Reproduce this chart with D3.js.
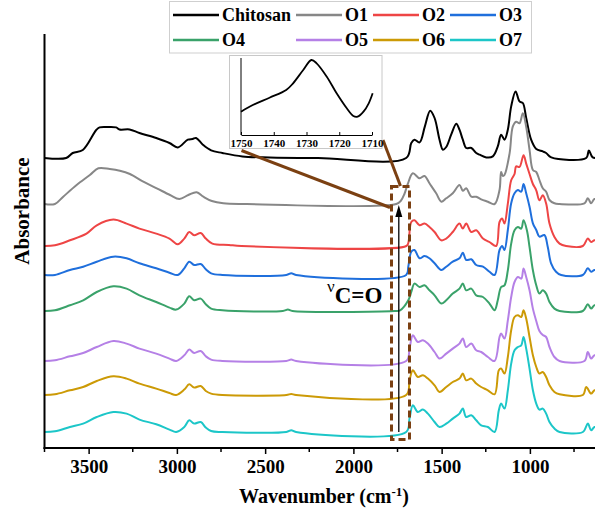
<!DOCTYPE html>
<html>
<head>
<meta charset="utf-8">
<script src="https://cdn.jsdelivr.net/npm/d3@7"></script>
<style>
  body { margin: 0; background: #fff; }
  text { font-family: "Liberation Serif", "Times New Roman", serif; }
</style>
</head>
<body>
<div id="chart"></div>
<script>
// spectra: [wavenumber, absorbance above own baseline]
var names = ["Chitosan", "O1", "O2", "O3", "O4", "O5", "O6", "O7"];
var offsets = [2.90, 2.44, 2.02, 1.73, 1.37, 0.87, 0.53, 0.16];

var chitosan = [[3750,0],[3627,0],[3590,.05],[3533,.08],[3457,.28],[3438,.306],[3393,.31],[3344,.306],[3325,.285],[3268,.285],[3212,.25],[3117,.20],[3042,.15],[2995,.106],[2938,.183],[2911,.19],[2891,.20],[2853,.133],[2806,.076],[2742,.05],[2629,.016],[2475,.005],[2200,0],[1701,0],[1672,.15],[1654,.183],[1625,.156],[1595,.316],[1565,.473],[1540,.40],[1512,.183],[1493,.083],[1474,.11],[1446,.233],[1417,.343],[1399,.283],[1380,.183],[1361,.10],[1332,.10],[1304,.05],[1285,.033],[1247,.006],[1210,.016],[1182,.116],[1163,.233],[1144,.183],[1125,.283],[1106,.516],[1081,.666],[1059,.566],[1040,.55],[1021,.40],[993,.183],[964,.09],[927,.066],[908,.05],[879,.006],[681,0],[666,.076],[644,.006],[600,0]];
var o1 = [[3750,0],[3691,0],[3644,.073],[3568,.19],[3493,.29],[3445,.357],[3380,.35],[3323,.333],[3266,.30],[3190,.223],[3114,.157],[3039,.09],[2986,.05],[2935,.09],[2888,.117],[2850,.073],[2802,.03],[2737,.007],[2605,0],[1757,0],[1730,.035],[1711,.10],[1692,.20],[1663,.307],[1625,.257],[1597,.28],[1569,.207],[1531,.107],[1502,.023],[1474,.057],[1437,.107],[1399,.19],[1380,.133],[1361,.157],[1332,.073],[1304,.073],[1276,.047],[1238,.023],[1200,0],[1172,.14],[1163,.32],[1153,.28],[1144,.29],[1115,.507],[1097,.773],[1078,.823],[1059,.807],[1040,.907],[1021,.773],[1002,.54],[983,.34],[964,.32],[946,.24],[927,.157],[908,.123],[889,.04],[861,.007],[832,0],[691,.007],[672,.057],[653,.007],[634,.05],[600,.02]];
var o2 = [[3750,0],[3691,.007],[3606,.057],[3512,.124],[3454,.207],[3360,.264],[3285,.224],[3212,.174],[3117,.124],[3042,.074],[2995,.017],[2958,.074],[2930,.14],[2902,.107],[2865,.13],[2836,.074],[2799,.024],[2705,.01],[2634,0],[1700,0],[1689,.03],[1672,.24],[1654,.257],[1625,.207],[1597,.224],[1569,.19],[1540,.14],[1502,.057],[1474,.074],[1437,.14],[1399,.224],[1380,.174],[1361,.224],[1332,.14],[1304,.157],[1266,.074],[1229,.04],[1191,0],[1172,.24],[1157,.274],[1144,.224],[1125,.424],[1106,.657],[1087,.72],[1078,.797],[1059,.79],[1036,.907],[1021,.824],[1002,.72],[983,.62],[964,.557],[946,.457],[927,.507],[908,.424],[889,.224],[861,.09],[832,.024],[795,0],[700,0],[672,.074],[653,.04],[634,.057],[600,.03]];
var o3 = [[3750,0],[3691,0],[3606,.05],[3531,.083],[3454,.133],[3360,.183],[3285,.167],[3212,.117],[3117,.067],[3042,.023],[2995,0],[2958,.067],[2930,.133],[2902,.10],[2865,.11],[2836,.057],[2806,.017],[2742,0],[2380,0],[2352,.017],[2325,0],[1701,0],[1689,.083],[1672,.233],[1654,.25],[1625,.167],[1597,.19],[1569,.167],[1540,.117],[1502,.05],[1474,.083],[1437,.133],[1399,.167],[1380,.223],[1361,.15],[1332,.157],[1304,.10],[1266,.083],[1229,.033],[1200,0],[1172,.25],[1157,.29],[1144,.25],[1125,.45],[1106,.717],[1087,.817],[1068,.85],[1049,.833],[1036,.91],[1021,.817],[1002,.683],[983,.517],[964,.45],[946,.383],[918,.40],[899,.283],[880,.117],[852,.033],[823,0],[700,0],[672,.067],[653,.033],[634,.05],[600,.03]];
var o4 = [[3750,0],[3691,.007],[3606,.057],[3531,.107],[3454,.19],[3360,.247],[3285,.224],[3212,.157],[3117,.09],[3042,.034],[3004,.014],[2958,.074],[2930,.147],[2902,.107],[2865,.124],[2836,.067],[2806,.024],[2742,.007],[2400,0],[2371,.014],[2345,0],[1768,0],[1735,.007],[1689,.107],[1672,.19],[1654,.274],[1625,.24],[1597,.257],[1569,.207],[1540,.157],[1502,.074],[1474,.107],[1437,.174],[1399,.224],[1380,.274],[1361,.207],[1332,.224],[1304,.157],[1266,.14],[1229,.074],[1200,.007],[1182,.107],[1163,.24],[1144,.257],[1125,.407],[1106,.674],[1087,.807],[1068,.84],[1049,.824],[1036,.907],[1017,.807],[1002,.64],[983,.407],[964,.257],[946,.174],[927,.207],[908,.174],[889,.09],[861,.024],[832,0],[700,0],[672,.067],[653,.024],[634,.057],[600,.03]];
var o5 = [[3750,0],[3691,.007],[3606,.047],[3531,.08],[3454,.14],[3360,.20],[3285,.174],[3212,.124],[3117,.074],[3042,.024],[3004,0],[2958,.057],[2930,.114],[2902,.08],[2865,.10],[2836,.047],[2806,.014],[2742,0],[2380,0],[2352,.014],[2325,0],[1701,0],[1682,.124],[1663,.257],[1635,.19],[1606,.207],[1578,.174],[1540,.09],[1512,.024],[1474,.074],[1437,.124],[1399,.174],[1380,.224],[1361,.14],[1332,.174],[1304,.107],[1276,.09],[1238,.04],[1200,0],[1172,.24],[1163,.274],[1144,.224],[1125,.407],[1106,.64],[1087,.79],[1068,.84],[1049,.824],[1036,.924],[1021,.84],[1002,.707],[983,.524],[964,.40],[946,.30],[927,.26],[908,.24],[889,.14],[861,.04],[832,0],[691,0],[672,.09],[653,.024],[634,.057],[600,.03]];
var o6 = [[3750,0],[3691,.007],[3606,.047],[3531,.08],[3454,.14],[3360,.187],[3285,.164],[3212,.114],[3117,.064],[3042,.02],[3004,0],[2958,.054],[2930,.107],[2902,.074],[2865,.09],[2836,.04],[2806,.014],[2742,0],[2380,0],[2352,.01],[2325,0],[1701,0],[1682,.147],[1663,.247],[1635,.18],[1606,.197],[1578,.164],[1540,.097],[1512,.03],[1474,.08],[1437,.13],[1399,.164],[1380,.214],[1361,.147],[1332,.164],[1304,.114],[1276,.08],[1238,.047],[1200,.007],[1176,.247],[1163,.264],[1144,.214],[1125,.38],[1106,.647],[1087,.78],[1068,.797],[1049,.78],[1036,.847],[1021,.764],[1002,.58],[983,.397],[964,.28],[946,.214],[927,.23],[908,.18],[889,.097],[861,.03],[832,.007],[700,0],[681,.08],[653,.014],[634,.047],[600,.03]];
var o7 = [[3750,0],[3691,.007],[3606,.05],[3531,.084],[3454,.15],[3360,.20],[3285,.184],[3212,.124],[3117,.077],[3042,.024],[3004,0],[2958,.05],[2930,.117],[2902,.084],[2865,.10],[2836,.044],[2806,.01],[2742,0],[2380,0],[2352,.017],[2325,0],[1701,0],[1682,.134],[1663,.267],[1635,.20],[1606,.224],[1578,.184],[1540,.10],[1512,.05],[1474,.084],[1437,.134],[1399,.184],[1380,.234],[1361,.15],[1332,.167],[1304,.117],[1276,.067],[1238,.05],[1200,0],[1176,.217],[1163,.284],[1144,.234],[1125,.417],[1106,.684],[1087,.817],[1068,.85],[1049,.867],[1036,.95],[1021,.834],[1002,.634],[983,.417],[964,.284],[946,.224],[927,.234],[908,.184],[889,.10],[861,.034],[832,0],[700,0],[672,.084],[653,.017],[634,.05],[600,.03]];
var spectra = [chitosan, o1, o2, o3, o4, o5, o6, o7];

// zoomed C=O band shown in the inset
var insetPts = [[1750,23.3],[1746.4,30],[1741.3,37.3],[1736.2,45],[1734.1,51.7],[1731,65],[1728.5,75],[1726.9,71.7],[1723.8,58.3],[1720.8,41.7],[1717.7,26.7],[1715.7,19],[1714.4,18.3],[1712.6,23.3],[1711,31.7],[1709.8,41.7]];

var majorTicks = [3500, 3000, 2500, 2000, 1500, 1000];
var minorTicks = [3750, 3250, 2750, 2250, 1750, 1250, 750];
var insetTicks = [1750, 1740, 1730, 1720, 1710];

var colors = ["#000000", "#878787", "#ee4545", "#1f6fdc", "#3aa26a", "#b580e6", "#cc9a06", "#1cc6c8"];
var brown = "#7b4012";

var svgWidth = 595;
var svgHeight = 510;

var svg = d3.select("#chart")
  .append("svg")
  .attr("width", svgWidth)
  .attr("height", svgHeight)
  .style("display", "block");

svg.append("rect").attr("width", svgWidth).attr("height", svgHeight).attr("fill", "#fff");

var xScale = d3.scaleLinear().domain([3750, 600]).range([44.5, 600.5]);
var yScale = d3.scaleLinear().domain([0, 4.14]).range([448, 34]);

// spectra
var line = d3.line()
  .x(d => xScale(d[0]))
  .y(d => yScale(d[1]))
  .curve(d3.curveCatmullRom.alpha(0.5));

var plotG = svg.append("g");
spectra.forEach(function(pts, i) {
  plotG.append("path")
    .datum(pts.map(p => [p[0], p[1] + offsets[i]]))
    .attr("d", line)
    .attr("fill", "none")
    .attr("stroke", colors[i])
    .attr("stroke-width", 2)
    .attr("stroke-linejoin", "round");
});

// axes
var xAxis = svg.append("g")
  .attr("transform", "translate(0,448)")
  .call(d3.axisBottom(xScale).tickValues(majorTicks).tickSize(6).tickSizeOuter(0).tickFormat(d3.format("d")));
xAxis.select(".domain").remove();
xAxis.selectAll(".tick line").attr("stroke", "#000").attr("stroke-width", 1.5);
xAxis.selectAll(".tick text")
  .attr("y", 12)
  .attr("font-family", "Liberation Serif")
  .attr("font-weight", "bold")
  .attr("font-size", 19)
  .attr("fill", "#000");

svg.append("g").selectAll("line")
  .data(minorTicks)
  .enter()
  .append("line")
  .attr("x1", d => xScale(d)).attr("x2", d => xScale(d))
  .attr("y1", 448).attr("y2", 452)
  .attr("stroke", "#000").attr("stroke-width", 1.5);

svg.append("line").attr("x1", 43.5).attr("x2", 595).attr("y1", 448).attr("y2", 448)
  .attr("stroke", "#000").attr("stroke-width", 2);
svg.append("line").attr("x1", 44.5).attr("x2", 44.5).attr("y1", 34).attr("y2", 449)
  .attr("stroke", "#000").attr("stroke-width", 2);

var xLabel = svg.append("text")
  .attr("x", 324).attr("y", 503)
  .attr("text-anchor", "middle")
  .attr("font-weight", "bold")
  .attr("font-size", 20);
xLabel.append("tspan").text("Wavenumber (cm");
xLabel.append("tspan").attr("dy", -7).attr("font-size", 13).text("-1");
xLabel.append("tspan").attr("dy", 7).text(")");

svg.append("text")
  .attr("transform", "translate(29,211) rotate(-90)")
  .attr("text-anchor", "middle")
  .attr("font-weight", "bold")
  .attr("font-size", 21)
  .text("Absorbance");

// dashed box around the C=O band and arrow
svg.append("rect")
  .attr("x", 391.5).attr("y", 186.5).attr("width", 18).attr("height", 253)
  .attr("fill", "none").attr("stroke", brown).attr("stroke-width", 3)
  .attr("stroke-dasharray", "7,4");

svg.append("line")
  .attr("x1", 398.8).attr("x2", 398.8).attr("y1", 432).attr("y2", 214)
  .attr("stroke", "#000").attr("stroke-width", 1.3);
svg.append("path")
  .attr("d", "M398.8,205 L395.3,217 L402.3,217 Z")
  .attr("fill", "#000");

var nuLabel = svg.append("text").attr("x", 327).attr("y", 303);
nuLabel.append("tspan").attr("font-size", 17).attr("dy", -11).text("\u03bd");
nuLabel.append("tspan").attr("dy", 11).attr("font-weight", "bold").attr("font-size", 23).text("C=O");

// connector lines to the inset
svg.append("line").attr("x1", 241.5).attr("y1", 150.5).attr("x2", 390).attr("y2", 207.5)
  .attr("stroke", brown).attr("stroke-width", 3);
svg.append("line").attr("x1", 383).attr("y1", 140).attr("x2", 400.5).attr("y2", 186)
  .attr("stroke", brown).attr("stroke-width", 3);

// inset
var insetG = svg.append("g");
insetG.append("rect")
  .attr("x", 229.5).attr("y", 55.5).attr("width", 152.5).attr("height", 93)
  .attr("fill", "#fff").attr("stroke", "#c8c8c8").attr("stroke-width", 1);

var insetX = d3.scaleLinear().domain([1750, 1710]).range([241, 372]);
var insetY = d3.scaleLinear().domain([0, 80]).range([135, 55]);

insetG.append("line").attr("x1", 241).attr("x2", 241).attr("y1", 58).attr("y2", 135)
  .attr("stroke", "#000").attr("stroke-width", 1);
var insetAxis = insetG.append("g")
  .attr("transform", "translate(0,135)")
  .call(d3.axisBottom(insetX).tickValues(insetTicks).tickSize(-3).tickSizeOuter(0).tickFormat(d3.format("d")));
insetAxis.select(".domain").attr("stroke", "#000").attr("stroke-width", 1);
insetAxis.selectAll(".tick line").attr("stroke", "#000");
insetAxis.selectAll(".tick text")
  .attr("y", 4)
  .attr("font-family", "Liberation Serif")
  .attr("font-weight", "bold")
  .attr("font-size", 11)
  .attr("fill", "#000");

insetG.append("path")
  .datum(insetPts)
  .attr("d", d3.line().x(d => insetX(d[0])).y(d => insetY(d[1])).curve(d3.curveCatmullRom.alpha(0.5)))
  .attr("fill", "none").attr("stroke", "#000").attr("stroke-width", 1.8);

// legend
var legendG = svg.append("g");
legendG.append("rect")
  .attr("x", 169.5).attr("y", 1.5).attr("width", 362).attr("height", 51.5)
  .attr("fill", "#fff").attr("stroke", "#cfcfcf").attr("stroke-width", 1);

var legendCols = [173, 296, 373, 450];
var legendRows = [15, 40];
names.forEach(function(name, i) {
  var lx = legendCols[i % 4];
  var ly = legendRows[Math.floor(i / 4)];
  legendG.append("line")
    .attr("x1", lx).attr("x2", lx + 46).attr("y1", ly).attr("y2", ly)
    .attr("stroke", colors[i]).attr("stroke-width", 2.5);
  legendG.append("text")
    .attr("x", lx + 49).attr("y", ly)
    .attr("dy", "0.35em")
    .attr("font-weight", "bold")
    .attr("font-size", 18)
    .text(name);
});
</script>
</body>
</html>
